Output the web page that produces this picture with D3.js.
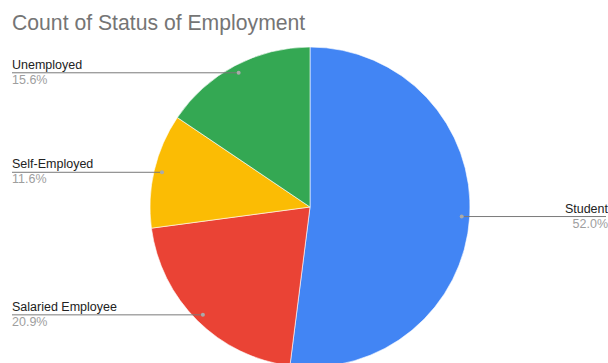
<!DOCTYPE html>
<html>
<head>
<meta charset="utf-8">
<script src="https://cdn.jsdelivr.net/npm/d3@7"></script>
<style>
  html, body { margin: 0; padding: 0; background: #fff; }
  svg { display: block; font-family: "Liberation Sans", Arial, sans-serif; }
</style>
</head>
<body>
<svg id="chart" width="608" height="363"></svg>
<script>
// Employment status counts
const categories = ["Student", "Salaried Employee", "Self-Employed", "Unemployed"];
const counts = [117, 47, 26, 35];
const colors = ["#4285f4", "#ea4335", "#fbbc04", "#34a853"];

const width = 608, height = 363;
const cx = 310, cy = 207, radius = 160;

const svg = d3.select("#chart");

svg.append("text")
  .attr("x", 12).attr("y", 30)
  .attr("font-size", 21.2)
  .attr("fill", "#757575")
  .text("Count of Status of Employment");

const total = d3.sum(counts);
const data = categories.map((c, i) => ({ name: c, value: counts[i], color: colors[i] }));

const pie = d3.pie().value(d => d.value).sort(null);
const arc = d3.arc().innerRadius(0).outerRadius(radius);
const arcs = pie(data);

const g = svg.append("g").attr("transform", `translate(${cx},${cy})`);

g.selectAll("path.slice")
  .data(arcs)
  .join("path")
  .attr("class", "slice")
  .attr("d", arc)
  .attr("fill", d => d.data.color)
  .attr("stroke", "#fff")
  .attr("stroke-width", 0.6);

// leader lines: from a dot inside the slice out to the label on the chart's edge
const dotR = radius * 0.95;
const fmt = d3.format(".1f");

arcs.forEach(a => {
  const mid = (a.startAngle + a.endAngle) / 2;
  const px = cx + dotR * Math.sin(mid);
  const py = cy - dotR * Math.cos(mid);
  const right = Math.sin(mid) > 0;
  const lx = right ? 606 : 12;
  const anchor = right ? "end" : "start";
  const tx = right ? 608 : 12;

  svg.append("line")
    .attr("x1", px).attr("y1", py)
    .attr("x2", lx).attr("y2", py)
    .attr("stroke", "#7a7a7a")
    .attr("stroke-width", 1);

  svg.append("circle")
    .attr("cx", px).attr("cy", py).attr("r", 2)
    .attr("fill", "#aaaaaa");

  svg.append("text")
    .attr("x", tx).attr("y", py - 4)
    .attr("text-anchor", anchor)
    .attr("font-size", 12.5)
    .attr("fill", "#222222")
    .text(a.data.name);

  svg.append("text")
    .attr("x", tx).attr("y", py + 11)
    .attr("text-anchor", anchor)
    .attr("font-size", 12.5)
    .attr("fill", "#9e9e9e")
    .text(fmt(a.data.value / total * 100) + "%");
});
</script>
</body>
</html>
